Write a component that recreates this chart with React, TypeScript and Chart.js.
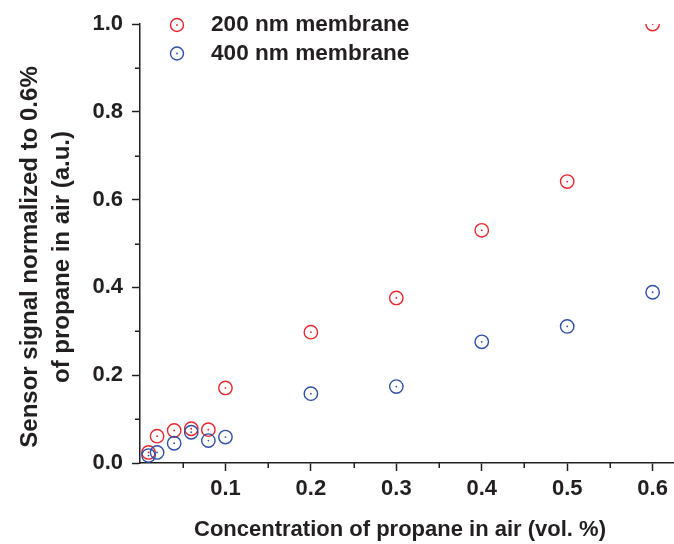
import React, { useEffect, useRef } from 'react';
import { Chart, registerables } from 'chart.js';

Chart.register(...registerables);

// ---- data ----
const concentration200 = [0.01, 0.02, 0.04, 0.06, 0.08, 0.1, 0.2, 0.3, 0.4, 0.5, 0.6];
const signal200 = [0.024, 0.061, 0.074, 0.078, 0.076, 0.171, 0.298, 0.376, 0.53, 0.641, 1.0];
const concentration400 = [0.01, 0.02, 0.04, 0.06, 0.08, 0.1, 0.2, 0.3, 0.4, 0.5, 0.6];
const signal400 = [0.017, 0.024, 0.045, 0.07, 0.051, 0.059, 0.158, 0.174, 0.276, 0.311, 0.389];

const seriesLabels = ['200 nm membrane', '400 nm membrane'];
const xTickLabels = ['0.1', '0.2', '0.3', '0.4', '0.5', '0.6'];
const xMinorTicks = [0.05, 0.15, 0.25, 0.35, 0.45, 0.55];
const yTickLabels = ['0.0', '0.2', '0.4', '0.6', '0.8', '1.0'];
const yMinorTicks = [0.1, 0.3, 0.5, 0.7, 0.9];
const xTitle = 'Concentration of propane in air (vol. %)';
const yTitle = ['Sensor signal normalized to 0.6%', 'of propane in air (a.u.)'];

const RED = '#e8262d';
const BLUE = '#2e4fa5';
const AXIS = '#231f20';
const FONT = "'Liberation Sans', Arial, sans-serif";

const centerDots = {
  id: 'centerDots',
  afterDatasetsDraw(chart: any) {
    const { ctx, chartArea } = chart;
    ctx.save();
    ctx.beginPath();
    ctx.rect(chartArea.left, chartArea.top, chartArea.right - chartArea.left, chartArea.bottom - chartArea.top);
    ctx.clip();
    chart.data.datasets.forEach((ds: any, i: number) => {
      const meta = chart.getDatasetMeta(i);
      ctx.fillStyle = ds.borderColor;
      meta.data.forEach((el: any) => {
        ctx.beginPath();
        ctx.arc(el.x, el.y, 0.9, 0, Math.PI * 2);
        ctx.fill();
      });
    });
    ctx.restore();
  },
};

const minorTicks = {
  id: 'minorTicks',
  afterDraw(chart: any) {
    const { ctx, chartArea } = chart;
    const x = chart.scales.x;
    const y = chart.scales.y;
    ctx.save();
    ctx.strokeStyle = AXIS;
    ctx.lineWidth = 1.5;
    xMinorTicks.forEach((v) => {
      const px = Math.round(x.getPixelForValue(v)) + 0.25;
      ctx.beginPath();
      ctx.moveTo(px, chartArea.bottom);
      ctx.lineTo(px, chartArea.bottom + 5);
      ctx.stroke();
    });
    yMinorTicks.forEach((v) => {
      const py = Math.round(y.getPixelForValue(v)) + 0.25;
      ctx.beginPath();
      ctx.moveTo(chartArea.left, py);
      ctx.lineTo(chartArea.left - 5, py);
      ctx.stroke();
    });
    ctx.restore();
  },
};

const axisTitles = {
  id: 'axisTitles',
  afterDraw(chart: any) {
    const { ctx } = chart;
    ctx.save();
    ctx.fillStyle = AXIS;
    ctx.textAlign = 'center';
    ctx.textBaseline = 'middle';
    ctx.font = `bold 22px ${FONT}`;
    ctx.fillText(xTitle, 400, 530);
    ctx.font = `bold 24px ${FONT}`;
    yTitle.forEach((line, i) => {
      ctx.save();
      ctx.translate(30 + i * 32, 257);
      ctx.rotate(-Math.PI / 2);
      ctx.fillText(line, 0, 0);
      ctx.restore();
    });
    ctx.restore();
  },
};

const customLegend = {
  id: 'customLegend',
  afterDraw(chart: any) {
    const { ctx } = chart;
    ctx.save();
    chart.data.datasets.forEach((ds: any, i: number) => {
      const cy = 25 + i * 28.5;
      const cx = 177;
      ctx.strokeStyle = ds.borderColor;
      ctx.lineWidth = 1.4;
      ctx.beginPath();
      ctx.arc(cx, cy, 6.5, 0, Math.PI * 2);
      ctx.stroke();
      ctx.fillStyle = ds.borderColor;
      ctx.beginPath();
      ctx.arc(cx, cy, 0.9, 0, Math.PI * 2);
      ctx.fill();
      ctx.fillStyle = AXIS;
      ctx.font = `bold 22.6px ${FONT}`;
      ctx.textBaseline = 'middle';
      ctx.textAlign = 'left';
      ctx.fillText(ds.label, 211, cy);
    });
    ctx.restore();
  },
};

export default function App() {
  const canvasRef = useRef<HTMLCanvasElement | null>(null);

  useEffect(() => {
    document.body.style.margin = '0';
    const canvas = canvasRef.current;
    if (!canvas) return;
    const chart = new Chart(canvas, {
      type: 'scatter',
      data: {
        datasets: [
          {
            label: seriesLabels[0],
            data: concentration200.map((c, i) => ({ x: c, y: signal200[i] })),
            borderColor: RED,
            backgroundColor: 'rgba(0,0,0,0)',
            pointRadius: 6.7,
            pointHoverRadius: 6.7,
            pointBorderWidth: 1.4,
            clip: 0,
            order: 1,
          },
          {
            label: seriesLabels[1],
            data: concentration400.map((c, i) => ({ x: c, y: signal400[i] })),
            borderColor: BLUE,
            backgroundColor: 'rgba(0,0,0,0)',
            pointRadius: 6.7,
            pointHoverRadius: 6.7,
            pointBorderWidth: 1.4,
            clip: 0,
            order: 0,
          },
        ],
      },
      options: {
        animation: false,
        responsive: false,
        devicePixelRatio: 1,
        layout: { autoPadding: false, padding: { top: 24, right: 0, bottom: 0, left: 0 } },
        plugins: {
          legend: { display: false },
          tooltip: { enabled: false },
        },
        scales: {
          x: {
            type: 'linear',
            min: 0,
            max: 0.625,
            afterBuildTicks: (scale: any) => {
              scale.ticks = xTickLabels.map((t) => ({ value: parseFloat(t) }));
            },
            afterFit: (scale: any) => {
              scale.height = 81;
              scale.paddingLeft = 0;
              scale.paddingRight = 0;
            },
            ticks: {
              callback: (v: any) => Number(v).toFixed(1),
              color: AXIS,
              font: { family: FONT, size: 22, weight: 'bold' },
              padding: 5,
              maxRotation: 0,
              autoSkip: false,
            },
            grid: {
              drawOnChartArea: false,
              drawTicks: true,
              tickLength: 8,
              tickWidth: 1.5,
              tickColor: AXIS,
            },
            border: { display: true, color: AXIS, width: 1.5 },
          },
          y: {
            type: 'linear',
            min: 0,
            max: 1,
            afterBuildTicks: (scale: any) => {
              scale.ticks = yTickLabels.map((t) => ({ value: parseFloat(t) }));
            },
            afterFit: (scale: any) => {
              scale.width = 140;
              scale.paddingTop = 0;
              scale.paddingBottom = 0;
            },
            ticks: {
              callback: (v: any) => Number(v).toFixed(1),
              color: AXIS,
              font: { family: FONT, size: 22, weight: 'bold' },
              padding: 9,
              autoSkip: false,
            },
            grid: {
              drawOnChartArea: false,
              drawTicks: true,
              tickLength: 8,
              tickWidth: 1.5,
              tickColor: AXIS,
            },
            border: { display: true, color: AXIS, width: 1.5 },
          },
        },
      },
      plugins: [centerDots, minorTicks, axisTitles, customLegend],
    });
    return () => chart.destroy();
  }, []);

  return (
    <div style={{ width: 674, height: 544, background: '#fff' }}>
      <canvas ref={canvasRef} width={674} height={544} style={{ display: 'block' }} />
    </div>
  );
}
